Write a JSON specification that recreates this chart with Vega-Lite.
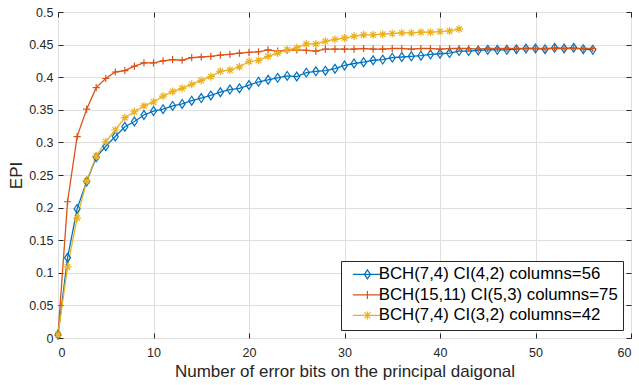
{
  "$schema": "https://vega.github.io/schema/vega-lite/v6.json",
  "width": 573,
  "height": 326,
  "autosize": {"type": "none"},
  "padding": {"left": 58, "top": 12, "right": 8, "bottom": 47},
  "background": "white",
  "config": {
    "font": "Liberation Sans",
    "view": {"stroke": "#262626", "strokeWidth": 1},
    "axis": {"labelFont": "Liberation Sans", "titleFont": "Liberation Sans", "labelColor": "#262626", "titleColor": "#262626", "titleFontWeight": "normal"}
  },
  "data": {"values": [
    {"s":"BCH(7,4) CI(4,2) columns=56","x":0,"y":0.005},
    {"s":"BCH(7,4) CI(4,2) columns=56","x":1,"y":0.123},
    {"s":"BCH(7,4) CI(4,2) columns=56","x":2,"y":0.198},
    {"s":"BCH(7,4) CI(4,2) columns=56","x":3,"y":0.240},
    {"s":"BCH(7,4) CI(4,2) columns=56","x":4,"y":0.277},
    {"s":"BCH(7,4) CI(4,2) columns=56","x":5,"y":0.294},
    {"s":"BCH(7,4) CI(4,2) columns=56","x":6,"y":0.309},
    {"s":"BCH(7,4) CI(4,2) columns=56","x":7,"y":0.324},
    {"s":"BCH(7,4) CI(4,2) columns=56","x":8,"y":0.332},
    {"s":"BCH(7,4) CI(4,2) columns=56","x":9,"y":0.342},
    {"s":"BCH(7,4) CI(4,2) columns=56","x":10,"y":0.348},
    {"s":"BCH(7,4) CI(4,2) columns=56","x":11,"y":0.351},
    {"s":"BCH(7,4) CI(4,2) columns=56","x":12,"y":0.356},
    {"s":"BCH(7,4) CI(4,2) columns=56","x":13,"y":0.359},
    {"s":"BCH(7,4) CI(4,2) columns=56","x":14,"y":0.364},
    {"s":"BCH(7,4) CI(4,2) columns=56","x":15,"y":0.368},
    {"s":"BCH(7,4) CI(4,2) columns=56","x":16,"y":0.372},
    {"s":"BCH(7,4) CI(4,2) columns=56","x":17,"y":0.377},
    {"s":"BCH(7,4) CI(4,2) columns=56","x":18,"y":0.381},
    {"s":"BCH(7,4) CI(4,2) columns=56","x":19,"y":0.383},
    {"s":"BCH(7,4) CI(4,2) columns=56","x":20,"y":0.388},
    {"s":"BCH(7,4) CI(4,2) columns=56","x":21,"y":0.393},
    {"s":"BCH(7,4) CI(4,2) columns=56","x":22,"y":0.396},
    {"s":"BCH(7,4) CI(4,2) columns=56","x":23,"y":0.399},
    {"s":"BCH(7,4) CI(4,2) columns=56","x":24,"y":0.402},
    {"s":"BCH(7,4) CI(4,2) columns=56","x":25,"y":0.401},
    {"s":"BCH(7,4) CI(4,2) columns=56","x":26,"y":0.407},
    {"s":"BCH(7,4) CI(4,2) columns=56","x":27,"y":0.409},
    {"s":"BCH(7,4) CI(4,2) columns=56","x":28,"y":0.410},
    {"s":"BCH(7,4) CI(4,2) columns=56","x":29,"y":0.413},
    {"s":"BCH(7,4) CI(4,2) columns=56","x":30,"y":0.418},
    {"s":"BCH(7,4) CI(4,2) columns=56","x":31,"y":0.421},
    {"s":"BCH(7,4) CI(4,2) columns=56","x":32,"y":0.423},
    {"s":"BCH(7,4) CI(4,2) columns=56","x":33,"y":0.426},
    {"s":"BCH(7,4) CI(4,2) columns=56","x":34,"y":0.427},
    {"s":"BCH(7,4) CI(4,2) columns=56","x":35,"y":0.430},
    {"s":"BCH(7,4) CI(4,2) columns=56","x":36,"y":0.431},
    {"s":"BCH(7,4) CI(4,2) columns=56","x":37,"y":0.432},
    {"s":"BCH(7,4) CI(4,2) columns=56","x":38,"y":0.433},
    {"s":"BCH(7,4) CI(4,2) columns=56","x":39,"y":0.435},
    {"s":"BCH(7,4) CI(4,2) columns=56","x":40,"y":0.436},
    {"s":"BCH(7,4) CI(4,2) columns=56","x":41,"y":0.437},
    {"s":"BCH(7,4) CI(4,2) columns=56","x":42,"y":0.440},
    {"s":"BCH(7,4) CI(4,2) columns=56","x":43,"y":0.440},
    {"s":"BCH(7,4) CI(4,2) columns=56","x":44,"y":0.441},
    {"s":"BCH(7,4) CI(4,2) columns=56","x":45,"y":0.442},
    {"s":"BCH(7,4) CI(4,2) columns=56","x":46,"y":0.442},
    {"s":"BCH(7,4) CI(4,2) columns=56","x":47,"y":0.442},
    {"s":"BCH(7,4) CI(4,2) columns=56","x":48,"y":0.443},
    {"s":"BCH(7,4) CI(4,2) columns=56","x":49,"y":0.444},
    {"s":"BCH(7,4) CI(4,2) columns=56","x":50,"y":0.444},
    {"s":"BCH(7,4) CI(4,2) columns=56","x":51,"y":0.443},
    {"s":"BCH(7,4) CI(4,2) columns=56","x":52,"y":0.445},
    {"s":"BCH(7,4) CI(4,2) columns=56","x":53,"y":0.444},
    {"s":"BCH(7,4) CI(4,2) columns=56","x":54,"y":0.445},
    {"s":"BCH(7,4) CI(4,2) columns=56","x":55,"y":0.443},
    {"s":"BCH(7,4) CI(4,2) columns=56","x":56,"y":0.442},
    {"s":"BCH(15,11) CI(5,3) columns=75","x":0,"y":0.005},
    {"s":"BCH(15,11) CI(5,3) columns=75","x":1,"y":0.209},
    {"s":"BCH(15,11) CI(5,3) columns=75","x":2,"y":0.309},
    {"s":"BCH(15,11) CI(5,3) columns=75","x":3,"y":0.351},
    {"s":"BCH(15,11) CI(5,3) columns=75","x":4,"y":0.384},
    {"s":"BCH(15,11) CI(5,3) columns=75","x":5,"y":0.398},
    {"s":"BCH(15,11) CI(5,3) columns=75","x":6,"y":0.408},
    {"s":"BCH(15,11) CI(5,3) columns=75","x":7,"y":0.410},
    {"s":"BCH(15,11) CI(5,3) columns=75","x":8,"y":0.417},
    {"s":"BCH(15,11) CI(5,3) columns=75","x":9,"y":0.422},
    {"s":"BCH(15,11) CI(5,3) columns=75","x":10,"y":0.422},
    {"s":"BCH(15,11) CI(5,3) columns=75","x":11,"y":0.425},
    {"s":"BCH(15,11) CI(5,3) columns=75","x":12,"y":0.427},
    {"s":"BCH(15,11) CI(5,3) columns=75","x":13,"y":0.426},
    {"s":"BCH(15,11) CI(5,3) columns=75","x":14,"y":0.430},
    {"s":"BCH(15,11) CI(5,3) columns=75","x":15,"y":0.431},
    {"s":"BCH(15,11) CI(5,3) columns=75","x":16,"y":0.432},
    {"s":"BCH(15,11) CI(5,3) columns=75","x":17,"y":0.434},
    {"s":"BCH(15,11) CI(5,3) columns=75","x":18,"y":0.435},
    {"s":"BCH(15,11) CI(5,3) columns=75","x":19,"y":0.437},
    {"s":"BCH(15,11) CI(5,3) columns=75","x":20,"y":0.438},
    {"s":"BCH(15,11) CI(5,3) columns=75","x":21,"y":0.439},
    {"s":"BCH(15,11) CI(5,3) columns=75","x":22,"y":0.442},
    {"s":"BCH(15,11) CI(5,3) columns=75","x":23,"y":0.440},
    {"s":"BCH(15,11) CI(5,3) columns=75","x":24,"y":0.441},
    {"s":"BCH(15,11) CI(5,3) columns=75","x":25,"y":0.442},
    {"s":"BCH(15,11) CI(5,3) columns=75","x":26,"y":0.441},
    {"s":"BCH(15,11) CI(5,3) columns=75","x":27,"y":0.440},
    {"s":"BCH(15,11) CI(5,3) columns=75","x":28,"y":0.443},
    {"s":"BCH(15,11) CI(5,3) columns=75","x":29,"y":0.443},
    {"s":"BCH(15,11) CI(5,3) columns=75","x":30,"y":0.443},
    {"s":"BCH(15,11) CI(5,3) columns=75","x":31,"y":0.443},
    {"s":"BCH(15,11) CI(5,3) columns=75","x":32,"y":0.444},
    {"s":"BCH(15,11) CI(5,3) columns=75","x":33,"y":0.443},
    {"s":"BCH(15,11) CI(5,3) columns=75","x":34,"y":0.443},
    {"s":"BCH(15,11) CI(5,3) columns=75","x":35,"y":0.444},
    {"s":"BCH(15,11) CI(5,3) columns=75","x":36,"y":0.444},
    {"s":"BCH(15,11) CI(5,3) columns=75","x":37,"y":0.443},
    {"s":"BCH(15,11) CI(5,3) columns=75","x":38,"y":0.444},
    {"s":"BCH(15,11) CI(5,3) columns=75","x":39,"y":0.444},
    {"s":"BCH(15,11) CI(5,3) columns=75","x":40,"y":0.443},
    {"s":"BCH(15,11) CI(5,3) columns=75","x":41,"y":0.444},
    {"s":"BCH(15,11) CI(5,3) columns=75","x":42,"y":0.444},
    {"s":"BCH(15,11) CI(5,3) columns=75","x":43,"y":0.444},
    {"s":"BCH(15,11) CI(5,3) columns=75","x":44,"y":0.443},
    {"s":"BCH(15,11) CI(5,3) columns=75","x":45,"y":0.444},
    {"s":"BCH(15,11) CI(5,3) columns=75","x":46,"y":0.444},
    {"s":"BCH(15,11) CI(5,3) columns=75","x":47,"y":0.444},
    {"s":"BCH(15,11) CI(5,3) columns=75","x":48,"y":0.444},
    {"s":"BCH(15,11) CI(5,3) columns=75","x":49,"y":0.444},
    {"s":"BCH(15,11) CI(5,3) columns=75","x":50,"y":0.444},
    {"s":"BCH(15,11) CI(5,3) columns=75","x":51,"y":0.444},
    {"s":"BCH(15,11) CI(5,3) columns=75","x":52,"y":0.444},
    {"s":"BCH(15,11) CI(5,3) columns=75","x":53,"y":0.444},
    {"s":"BCH(15,11) CI(5,3) columns=75","x":54,"y":0.444},
    {"s":"BCH(15,11) CI(5,3) columns=75","x":55,"y":0.444},
    {"s":"BCH(15,11) CI(5,3) columns=75","x":56,"y":0.444},
    {"s":"BCH(7,4) CI(3,2) columns=42","x":0,"y":0.005},
    {"s":"BCH(7,4) CI(3,2) columns=42","x":1,"y":0.109},
    {"s":"BCH(7,4) CI(3,2) columns=42","x":2,"y":0.184},
    {"s":"BCH(7,4) CI(3,2) columns=42","x":3,"y":0.241},
    {"s":"BCH(7,4) CI(3,2) columns=42","x":4,"y":0.279},
    {"s":"BCH(7,4) CI(3,2) columns=42","x":5,"y":0.301},
    {"s":"BCH(7,4) CI(3,2) columns=42","x":6,"y":0.319},
    {"s":"BCH(7,4) CI(3,2) columns=42","x":7,"y":0.338},
    {"s":"BCH(7,4) CI(3,2) columns=42","x":8,"y":0.347},
    {"s":"BCH(7,4) CI(3,2) columns=42","x":9,"y":0.356},
    {"s":"BCH(7,4) CI(3,2) columns=42","x":10,"y":0.362},
    {"s":"BCH(7,4) CI(3,2) columns=42","x":11,"y":0.371},
    {"s":"BCH(7,4) CI(3,2) columns=42","x":12,"y":0.378},
    {"s":"BCH(7,4) CI(3,2) columns=42","x":13,"y":0.383},
    {"s":"BCH(7,4) CI(3,2) columns=42","x":14,"y":0.389},
    {"s":"BCH(7,4) CI(3,2) columns=42","x":15,"y":0.395},
    {"s":"BCH(7,4) CI(3,2) columns=42","x":16,"y":0.401},
    {"s":"BCH(7,4) CI(3,2) columns=42","x":17,"y":0.409},
    {"s":"BCH(7,4) CI(3,2) columns=42","x":18,"y":0.411},
    {"s":"BCH(7,4) CI(3,2) columns=42","x":19,"y":0.416},
    {"s":"BCH(7,4) CI(3,2) columns=42","x":20,"y":0.424},
    {"s":"BCH(7,4) CI(3,2) columns=42","x":21,"y":0.426},
    {"s":"BCH(7,4) CI(3,2) columns=42","x":22,"y":0.432},
    {"s":"BCH(7,4) CI(3,2) columns=42","x":23,"y":0.437},
    {"s":"BCH(7,4) CI(3,2) columns=42","x":24,"y":0.442},
    {"s":"BCH(7,4) CI(3,2) columns=42","x":25,"y":0.445},
    {"s":"BCH(7,4) CI(3,2) columns=42","x":26,"y":0.451},
    {"s":"BCH(7,4) CI(3,2) columns=42","x":27,"y":0.451},
    {"s":"BCH(7,4) CI(3,2) columns=42","x":28,"y":0.455},
    {"s":"BCH(7,4) CI(3,2) columns=42","x":29,"y":0.458},
    {"s":"BCH(7,4) CI(3,2) columns=42","x":30,"y":0.460},
    {"s":"BCH(7,4) CI(3,2) columns=42","x":31,"y":0.463},
    {"s":"BCH(7,4) CI(3,2) columns=42","x":32,"y":0.465},
    {"s":"BCH(7,4) CI(3,2) columns=42","x":33,"y":0.465},
    {"s":"BCH(7,4) CI(3,2) columns=42","x":34,"y":0.466},
    {"s":"BCH(7,4) CI(3,2) columns=42","x":35,"y":0.467},
    {"s":"BCH(7,4) CI(3,2) columns=42","x":36,"y":0.468},
    {"s":"BCH(7,4) CI(3,2) columns=42","x":37,"y":0.468},
    {"s":"BCH(7,4) CI(3,2) columns=42","x":38,"y":0.469},
    {"s":"BCH(7,4) CI(3,2) columns=42","x":39,"y":0.469},
    {"s":"BCH(7,4) CI(3,2) columns=42","x":40,"y":0.470},
    {"s":"BCH(7,4) CI(3,2) columns=42","x":41,"y":0.471},
    {"s":"BCH(7,4) CI(3,2) columns=42","x":42,"y":0.474}
  ]},
  "resolve": {"axis": {"x": "independent", "y": "independent"}, "scale": {"color": "independent", "shape": "independent"}},
  "layer": [
    {
      "mark": {"type": "line", "strokeWidth": 1.3},
      "encoding": {
        "x": {"field": "x", "type": "quantitative", "scale": {"domain": [0, 60], "nice": false},
          "axis": {"orient": "bottom", "title": "Number of error bits on the principal daigonal", "values": [0,10,20,30,40,50,60], "format": "d",
            "labelFontSize": 12.5, "titleFontSize": 17, "labelPadding": 13, "titlePadding": 5,
            "tickSize": -5, "tickColor": "#262626", "domain": false, "grid": true, "gridColor": "#dfdfdf", "gridWidth": 1}},
        "y": {"field": "y", "type": "quantitative", "scale": {"domain": [0, 0.5], "nice": false, "zero": false},
          "axis": {"orient": "left", "title": "EPI", "values": [0,0.05,0.1,0.15,0.2,0.25,0.3,0.35,0.4,0.45,0.5], "format": "~g",
            "labelFontSize": 12.5, "titleFontSize": 17, "labelPadding": 10, "titlePadding": 3,
            "tickSize": -5, "tickColor": "#262626", "domain": false, "grid": true, "gridColor": "#dfdfdf", "gridWidth": 1}},
        "color": {"field": "s", "type": "nominal",
          "scale": {"domain": ["BCH(7,4) CI(4,2) columns=56", "BCH(15,11) CI(5,3) columns=75", "BCH(7,4) CI(3,2) columns=42"], "range": ["#0072BD", "#D95319", "#EDB120"]},
          "legend": null}
      }
    },
    {
      "mark": {"type": "point", "filled": false, "strokeWidth": 1.2, "size": 64, "opacity": 1},
      "encoding": {
        "x": {"field": "x", "type": "quantitative", "scale": {"domain": [0, 60], "nice": false},
          "axis": {"orient": "top", "labels": false, "title": null, "values": [0,10,20,30,40,50,60], "tickSize": -5, "tickColor": "#262626", "domain": false, "grid": false}},
        "y": {"field": "y", "type": "quantitative", "scale": {"domain": [0, 0.5], "nice": false, "zero": false},
          "axis": {"orient": "right", "labels": false, "title": null, "values": [0,0.05,0.1,0.15,0.2,0.25,0.3,0.35,0.4,0.45,0.5], "tickSize": -5, "tickColor": "#262626", "domain": false, "grid": false}},
        "color": {"field": "s", "type": "nominal",
          "scale": {"domain": ["BCH(7,4) CI(4,2) columns=56", "BCH(15,11) CI(5,3) columns=75", "BCH(7,4) CI(3,2) columns=42"], "range": ["#0072BD", "#D95319", "#EDB120"]},
          "legend": null},
        "shape": {"field": "s", "type": "nominal",
          "scale": {"domain": ["BCH(7,4) CI(4,2) columns=56", "BCH(15,11) CI(5,3) columns=75", "BCH(7,4) CI(3,2) columns=42"],
            "range": ["M0,-1.1L0.75,0L0,1.1L-0.75,0Z", "M-0.9,0L0.9,0M0,-0.9L0,0.9", "M-1,0L1,0M0,-1L0,1M-0.7,-0.7L0.7,0.7M-0.7,0.7L0.7,-0.7"]},
          "legend": null}
      }
    },
    {
      "transform": [{"filter": "datum.x == 0"}],
      "mark": {"type": "point", "filled": false, "strokeWidth": 1.2, "size": 100, "opacity": 0},
      "encoding": {
        "x": {"field": "x", "type": "quantitative", "scale": {"domain": [0, 60], "nice": false}, "axis": null},
        "y": {"field": "y", "type": "quantitative", "scale": {"domain": [0, 0.5], "nice": false, "zero": false}, "axis": null},
        "color": {"field": "s", "type": "nominal",
          "scale": {"domain": ["BCH(7,4) CI(4,2) columns=56", "BCH(15,11) CI(5,3) columns=75", "BCH(7,4) CI(3,2) columns=42"], "range": ["#0072BD", "#D95319", "#EDB120"]},
          "legend": {"title": null, "orient": "bottom-right", "offset": 8, "strokeColor": "#262626", "fillColor": "white", "padding": 5,
            "labelFont": "Liberation Sans", "labelFontSize": 16.8, "labelColor": "#000000", "labelLimit": 400,
            "symbolSize": 100, "symbolOffset": 13, "labelOffset": 3, "rowPadding": 2.5, "symbolStrokeWidth": 1.2, "symbolOpacity": 1}},
        "shape": {"field": "s", "type": "nominal",
          "scale": {"domain": ["BCH(7,4) CI(4,2) columns=56", "BCH(15,11) CI(5,3) columns=75", "BCH(7,4) CI(3,2) columns=42"],
            "range": ["M-2.9,0L2.9,0M0,-0.9L0.6,0L0,0.9L-0.6,0Z", "M-2.9,0L2.9,0M0,-0.8L0,0.8", "M-2.9,0L2.9,0M0,-0.8L0,0.8M-0.6,-0.6L0.6,0.6M-0.6,0.6L0.6,-0.6"]},
          "legend": {"title": null, "orient": "bottom-right", "offset": 8, "strokeColor": "#262626", "fillColor": "white", "padding": 5,
            "labelFont": "Liberation Sans", "labelFontSize": 16.8, "labelColor": "#000000", "labelLimit": 400,
            "symbolSize": 100, "symbolOffset": 13, "labelOffset": 3, "rowPadding": 2.5, "symbolStrokeWidth": 1.2, "symbolOpacity": 1}}
      }
    }
  ]
}
